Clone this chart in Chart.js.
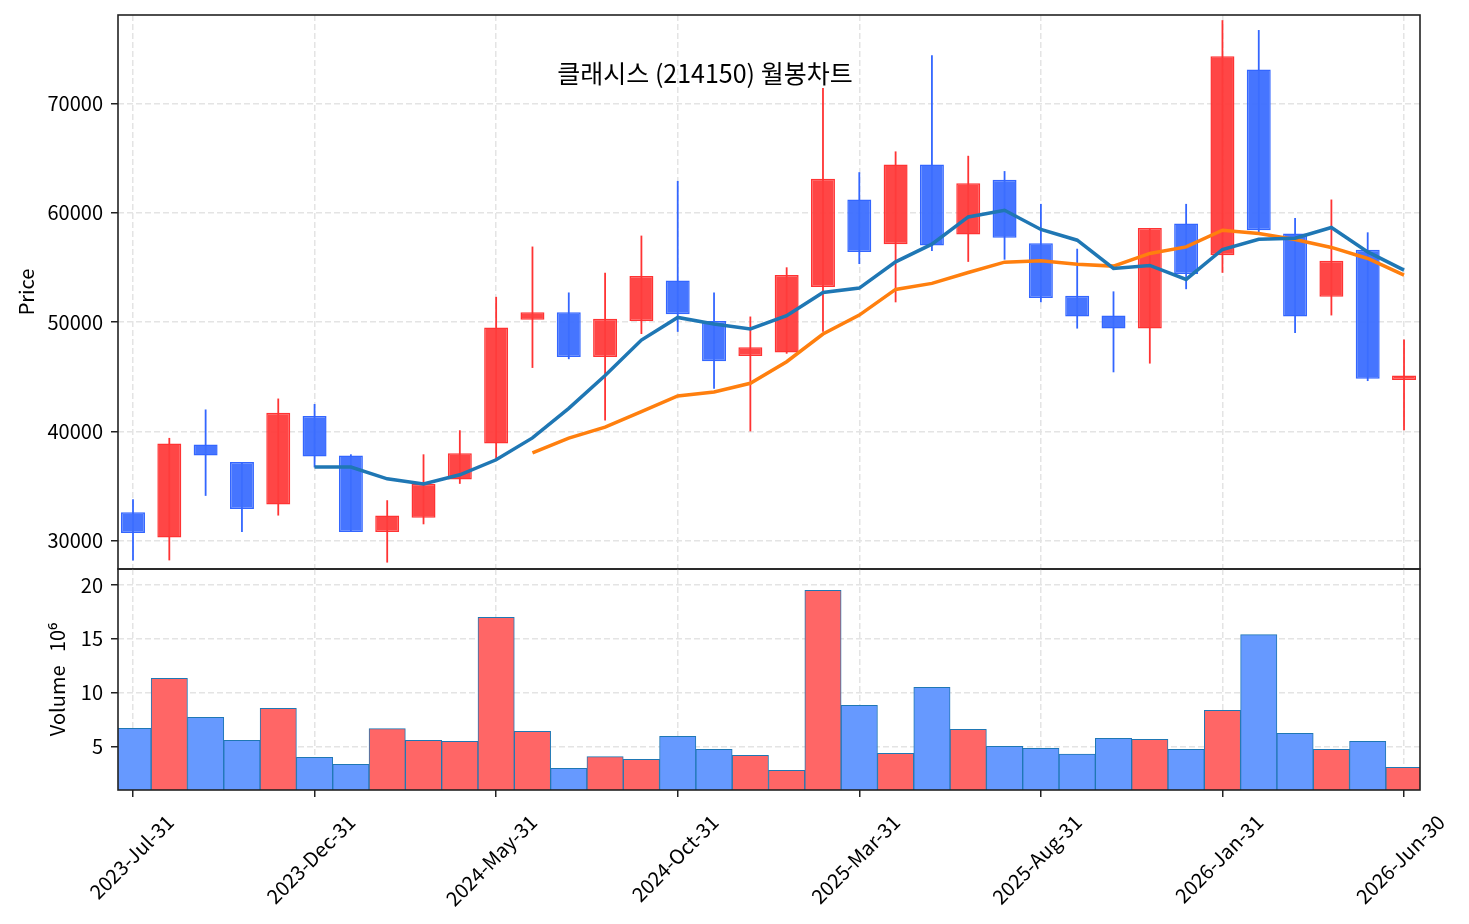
<!DOCTYPE html>
<html><head><meta charset="utf-8">
<script src="https://cdn.jsdelivr.net/npm/chart.js@4.4.1/dist/chart.umd.min.js"></script>
<style>
html,body{margin:0;padding:0;background:#fff;}
#wrap{position:relative;width:1469px;height:924px;overflow:hidden;background:#fff;}
canvas{position:absolute;left:0;}
#title{position:absolute;left:705px;top:59px;transform:translateX(-50%);font-family:"Noto Sans CJK KR","Noto Sans",sans-serif;font-size:25px;line-height:26px;white-space:nowrap;color:#000;}
</style></head><body>
<div id="wrap">
<canvas id="price" width="1469" height="575" style="top:0"></canvas>
<canvas id="vol" width="1469" height="364" style="top:560px"></canvas>
<div id="title">클래시스 (214150) 월봉차트</div>
</div>
<script>
// ---- data ----
const months = ['2023-Jul-31','2023-Aug-31','2023-Sep-30','2023-Oct-31','2023-Nov-30','2023-Dec-31',
  '2024-Jan-31','2024-Feb-29','2024-Mar-31','2024-Apr-30','2024-May-31','2024-Jun-30',
  '2024-Jul-31','2024-Aug-31','2024-Sep-30','2024-Oct-31','2024-Nov-30','2024-Dec-31',
  '2025-Jan-31','2025-Feb-28','2025-Mar-31','2025-Apr-30','2025-May-31','2025-Jun-30',
  '2025-Jul-31','2025-Aug-31','2025-Sep-30','2025-Oct-31','2025-Nov-30','2025-Dec-31',
  '2026-Jan-31','2026-Feb-28','2026-Mar-31','2026-Apr-30','2026-May-31','2026-Jun-30'];
const openP  = [32600,30300,38800,37200,33300,41400,37800,30800,32100,35600,38900,50200,50900,46800,50100,53800,50100,46900,47200,53200,61200,57100,64400,58000,63000,57200,52400,50600,49400,59000,56100,73100,58100,52300,56600,44700];
const highP  = [33800,39400,42000,37200,43000,42500,37900,33700,37900,40100,52300,56900,52700,54500,57900,62900,52700,50500,55000,71400,63700,65600,74400,65200,63800,60800,56700,52800,58600,60800,77600,76700,59500,61200,58200,48400];
const lowP   = [28200,28200,34100,30800,32300,36700,30800,28000,31500,35200,37400,45800,46600,41000,48900,49100,43900,40000,47100,49100,55300,51800,56500,55500,55700,51800,49400,45400,46200,53000,54500,58200,49000,50600,44600,40100];
const closeP = [30700,38900,37800,32900,41700,37700,30800,32300,35200,38000,49500,50900,46800,50300,54200,50700,46400,47700,54300,63100,56400,64400,57000,62700,57700,52200,50500,49400,58600,54400,74300,58400,50500,55600,44800,45100];
const volumeM = [6.70,11.34,7.73,5.59,8.56,4.02,3.37,6.67,5.59,5.50,17.0,6.43,3.00,4.07,3.83,5.96,4.76,4.20,2.81,19.5,8.84,4.39,10.51,6.61,5.04,4.85,4.32,5.78,5.69,4.76,8.37,15.4,6.24,4.76,5.50,3.09];
const maShort = [null,null,null,null,null,36740,36740,35660,35180,36030,37400,39400,42100,45100,48350,50420,49810,49360,50570,52700,53100,55500,57120,59610,60220,58460,57480,54900,55170,53890,56630,57570,57660,58640,56410,54740];
const maLong  = [null,null,null,null,null,null,null,null,null,null,null,38030,39380,40380,41800,43240,43600,44400,46370,48900,50630,52980,53530,54530,55470,55590,55290,55110,56270,56870,58390,58090,57540,56820,55810,54290];
const xTickLabels = ['2023-Jul-31','2023-Dec-31','2024-May-31','2024-Oct-31','2025-Mar-31','2025-Aug-31','2026-Jan-31','2026-Jun-30'];
const priceTicks = [30000,40000,50000,60000,70000];
const volTicks = [5,10,15,20];

// ---- styling ----
const FONT = '"Noto Sans CJK KR","Noto Sans",sans-serif';
Chart.defaults.font.family = FONT;
Chart.defaults.font.size = 20;
Chart.defaults.color = '#000';
Chart.defaults.animation = false;
const GRID = '#e4e4e4';
const DASH = [6,3];
const XMIN = -0.413, XMAX = 35.44;
const up = months.map((m,i)=>closeP[i] >= openP[i]);
const bodyFill = up.map(u=>u ? 'rgba(255,60,60,0.95)' : 'rgba(60,110,255,0.95)');
const bodyEdge = up.map(u=>u ? '#ff3333' : '#3366ff');
const volFill = up.map(u=>u ? '#ff6666' : '#6699ff');
const tickIdx = xTickLabels.map(l=>months.indexOf(l));

const frame = {id:'frame', afterDraw(c){const a=c.chartArea, x=c.ctx; x.save(); x.strokeStyle='#222'; x.lineWidth=1.6; x.strokeRect(a.left,a.top,a.right-a.left,a.bottom-a.top); x.restore();}};

function xScale(showLabels, h){
  return {type:'linear', min:XMIN, max:XMAX, offset:false,
    afterBuildTicks:s=>{s.ticks = tickIdx.map(v=>({value:v}));},
    afterFit:s=>{s.height=h; s.paddingLeft=0; s.paddingRight=0;},
    ticks:{display:showLabels, autoSkip:false, maxRotation:45, minRotation:45, padding:13, labelOffset:37,
      callback:v=>months[v]},
    grid:{offset:false, color:GRID, lineWidth:1.5, drawTicks:showLabels, tickLength:7, tickWidth:1.5, tickColor:'#222', tickBorderDash:[]},
    border:{display:false, dash:DASH}};
}
function yScale(min,max,ticks,title,tpad){
  return {min, max,
    afterBuildTicks:s=>{s.ticks = ticks.map(v=>({value:v}));},
    afterFit:s=>{s.width=118; s.paddingTop=0; s.paddingBottom=0;},
    ticks:{padding:8, color:'#000', callback:v=>String(v)},
    grid:{color:GRID, lineWidth:1.5, tickLength:7, tickWidth:1.5, tickColor:'#222', tickBorderDash:[]},
    border:{display:false, dash:DASH},
    title:{display:true, text:title, color:'#000', font:{size:20}, padding:{top:tpad,bottom:0}}};
}

new Chart(document.getElementById('price'), {
  type:'bar',
  data:{datasets:[
    {type:'line', label:'MA6', data:months.map((m,i)=>({x:i,y:maShort[i]})), borderColor:'#1f77b4', borderWidth:3.5, pointRadius:0, tension:0, order:0},
    {type:'line', label:'MA12', data:months.map((m,i)=>({x:i,y:maLong[i]})), borderColor:'#ff7f0e', borderWidth:3.5, pointRadius:0, tension:0, order:1},
    {label:'body', data:months.map((m,i)=>({x:i,y:[openP[i],closeP[i]]})), backgroundColor:bodyFill, borderColor:bodyEdge, borderWidth:1.5, borderSkipped:false,
      grouped:false, categoryPercentage:1, barPercentage:0.66, order:2},
    {label:'wick', data:months.map((m,i)=>({x:i,y:[lowP[i],highP[i]]})), backgroundColor:bodyEdge, borderWidth:0,
      grouped:false, categoryPercentage:1, barPercentage:0.05, maxBarThickness:1.8, order:3}
  ]},
  options:{responsive:false, animation:false, events:[],
    layout:{padding:{top:15,right:49,bottom:6,left:0}},
    plugins:{legend:{display:false}, tooltip:{enabled:false}},
    scales:{x:xScale(false,0), y:yScale(27412,78075,priceTicks,'Price',14)}},
  plugins:[frame]
});

new Chart(document.getElementById('vol'), {
  type:'bar',
  data:{datasets:[
    {label:'Volume', data:months.map((m,i)=>({x:i,y:volumeM[i]})), backgroundColor:volFill, borderColor:'#1f77b4', borderWidth:1, borderSkipped:false,
      categoryPercentage:1, barPercentage:1}
  ]},
  options:{responsive:false, animation:false, events:[],
    layout:{padding:{top:9,right:49,bottom:0,left:0}},
    plugins:{legend:{display:false}, tooltip:{enabled:false}},
    scales:{x:xScale(true,134), y:yScale(0.98,21.48,volTicks,'Volume   10⁶',45)}},
  plugins:[frame]
});
</script>
</body></html>
